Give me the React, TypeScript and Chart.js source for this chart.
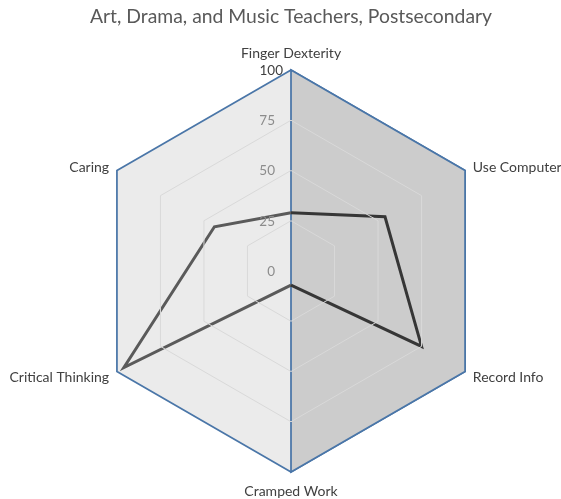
import { useEffect, useRef } from 'react';
import { Chart, registerables } from 'chart.js';

Chart.register(...registerables);

const chartTitle = 'Art, Drama, and Music Teachers, Postsecondary';
const categories = ['Finger Dexterity', 'Use Computer', 'Record Info', 'Cramped Work', 'Critical Thinking', 'Caring'];
const seriesValues = [29, 54, 75, 7, 96, 44];
const rightHalfValues = [100, 100, 100, 100, 0, 0];
const fullValues = [100, 100, 100, 100, 100, 100];
const tickValues = [0, 25, 50, 75, 100];

// the series line is darker on the right half (indices 0..3) than on the left half (3..5, 0)
const rightSideIdx = [0, 1, 2, 3];
const leftSideIdx = [3, 4, 5, 0];
const rightSideValues = seriesValues.map((v, i) => (rightSideIdx.includes(i) ? v : null));
const leftSideValues = seriesValues.map((v, i) => (leftSideIdx.includes(i) ? v : null));

const FONT = 'Lato';

const labelPlugin = {
  id: 'customLabels',
  afterDraw(chart: any) {
    const scale = chart.scales.r;
    const ctx = chart.ctx;
    ctx.save();
    ctx.font = `13.5px ${FONT}`;
    ctx.textBaseline = 'middle';
    ctx.textAlign = 'right';
    tickValues.forEach((v) => {
      const d = scale.getDistanceFromCenterForValue(v);
      const y = scale.yCenter - d;
      ctx.fillStyle = v === 100 ? '#404040' : '#8c8c8c';
      ctx.fillText(String(v), scale.xCenter - (v === 100 ? 8 : 16), y + 0.5);
    });
    ctx.font = `14px ${FONT}`;
    ctx.fillStyle = '#404040';
    categories.forEach((lab, i) => {
      const p = scale.getPointPosition(i, scale.drawingArea + 9);
      if (i === 0) {
        ctx.textAlign = 'center';
        ctx.textBaseline = 'bottom';
        ctx.fillText(lab, p.x, p.y - 1);
      } else if (i === 3) {
        ctx.textAlign = 'center';
        ctx.textBaseline = 'top';
        ctx.fillText(lab, p.x, p.y + 3);
      } else if (i < 3) {
        ctx.textAlign = 'left';
        ctx.textBaseline = 'middle';
        ctx.fillText(lab, p.x, p.y + 1.5);
      } else {
        ctx.textAlign = 'right';
        ctx.textBaseline = 'middle';
        ctx.fillText(lab, p.x, p.y + 1.5);
      }
    });
    ctx.restore();
  },
};

export default function App() {
  const ref = useRef<HTMLCanvasElement>(null);
  useEffect(() => {
    if (!ref.current) return;
    const chart = new Chart(ref.current, {
      type: 'radar',
      data: {
        labels: categories,
        datasets: [
          {
            data: rightSideValues,
            borderColor: '#363636',
            borderWidth: 3,
            fill: false,
            pointRadius: 0,
            spanGaps: false,
          },
          {
            data: leftSideValues,
            borderColor: '#5a5a5a',
            borderWidth: 3,
            fill: false,
            pointRadius: 0,
            spanGaps: false,
          },
          {
            data: rightHalfValues,
            borderColor: '#4a76a8',
            borderWidth: 1.75,
            backgroundColor: '#cccccc',
            fill: true,
            pointRadius: 0,
          },
          {
            data: fullValues,
            borderColor: '#4a76a8',
            borderWidth: 1.75,
            backgroundColor: '#ebebeb',
            fill: true,
            pointRadius: 0,
          },
        ],
      },
      options: {
        responsive: false,
        animation: false,
        layout: { padding: { top: 0, bottom: 27, left: 90, right: 69 } },
        elements: { line: { tension: 0 } },
        plugins: {
          legend: { display: false },
          tooltip: { enabled: false },
          title: {
            display: true,
            text: chartTitle,
            color: '#595959',
            font: { family: FONT, size: 20, weight: 'normal' },
            padding: { top: 5, bottom: 41 },
          },
        },
        scales: {
          r: {
            min: 0,
            max: 100,
            z: 1,
            ticks: { display: false, stepSize: 25 },
            pointLabels: { display: false },
            angleLines: { display: false },
            grid: {
              z: 1,
              lineWidth: 1,
              color: (c: any) =>
                c.tick && (c.tick.value === 100 || c.tick.value === 0) ? 'rgba(0,0,0,0)' : '#d9d9d9',
            },
          },
        },
      } as any,
      plugins: [labelPlugin],
    });
    return () => chart.destroy();
  }, []);
  return (
    <div style={{ position: 'absolute', left: 0, top: 0, width: 561, height: 499, background: '#fff' }}>
      <canvas ref={ref} width={561} height={499} style={{ display: 'block' }} />
    </div>
  );
}
